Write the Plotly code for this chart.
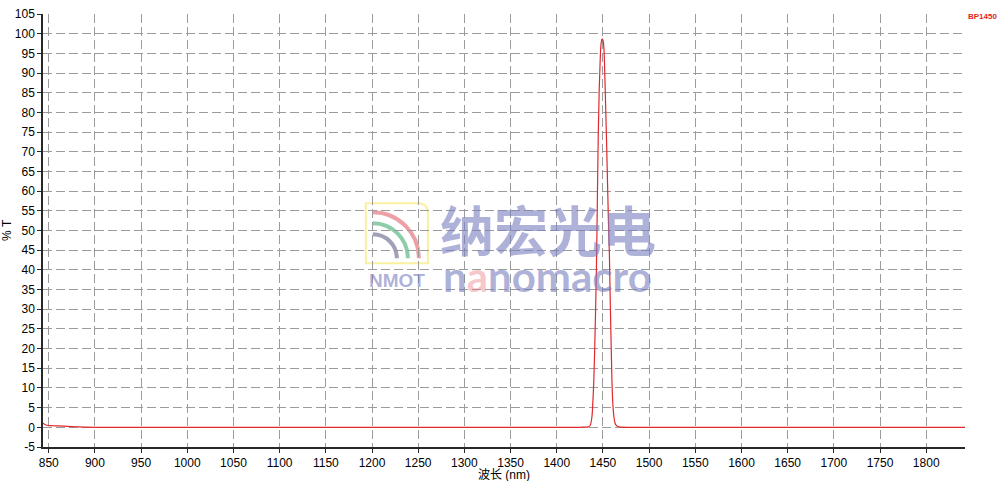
import plotly.graph_objects as go

# ---- data ----
wavelength = [843.8, 845, 847, 850, 855, 860, 870, 880, 890, 900, 1000, 1100, 1200, 1300, 1400,
              1425, 1430, 1434, 1436, 1438, 1439, 1440, 1441, 1442, 1443, 1444, 1445, 1446,
              1447, 1448, 1449, 1450, 1451, 1452, 1453, 1454, 1455, 1456, 1457, 1458, 1459,
              1460, 1461, 1462, 1463, 1464, 1466, 1470, 1480, 1500, 1600, 1700, 1800, 1842]
transmission = [1.0, 0.85, 0.6, 0.45, 0.4, 0.35, 0.25, 0.15, 0.05, 0.0, 0.0, 0.0, 0.0, 0.0, 0.0,
                0.0, 0.05, 0.1, 0.4, 2.5, 6, 11, 19, 29, 41, 58, 75, 86,
                93, 97.5, 98.6, 98.4, 96.5, 90, 81, 72, 62, 52, 44, 31, 20,
                10, 5, 2.5, 1.2, 0.6, 0.2, 0.05, 0.0, 0.0, 0.0, 0.0, 0.0, 0.0]

x_ticks = list(range(850, 1801, 50))
y_ticks = list(range(-5, 106, 5))
series_name = "BP1450"
x_title = "波长 (nm)"
y_title = "% T"

X0, X1 = 843.8, 1842
Y0, Y1 = -5, 105

fig = go.Figure()
fig.add_trace(go.Scatter(x=wavelength, y=transmission, mode="lines", name=series_name,
                         line=dict(color="rgb(225,40,45)", width=1.2), line_shape="spline"))

# plot area in pixels
L, R, T, B = 43.3, 965.0, 13.6, 447.0
W_PX, H_PX = 1000, 481


def px2p(px, py):
    return ((px - L) / (R - L), (B - py) / (B - T))


def pathstr(points, close=False):
    s = ""
    for cmd, pts in points:
        s += cmd + " " + " ".join("%.5f,%.5f" % px2p(*p) for p in pts) + " "
    if close:
        s += "Z"
    return s


shapes = []
# logo: yellow rounded square
logo = [("M", [(366, 263)]), ("L", [(366, 203)]), ("L", [(418, 203)]),
        ("Q", [(428, 203), (428, 213)]), ("L", [(428, 263)]), ("L", [(366, 263)])]
shapes.append(dict(type="path", xref="paper", yref="paper", path=pathstr(logo, True),
                   line=dict(color="rgba(248,238,150,0.9)", width=2), layer="below"))
k = 0.5523
for r, col, w in [(46, "rgba(235,150,155,0.9)", 4), (35, "rgba(130,200,160,0.9)", 4),
                  (24, "rgba(150,150,175,0.9)", 4)]:
    cx, cy = 373, 258
    arc = [("M", [(cx, cy - r)]),
           ("C", [(cx + k * r, cy - r), (cx + r, cy - k * r), (cx + r, cy)])]
    shapes.append(dict(type="path", xref="paper", yref="paper", path=pathstr(arc),
                       line=dict(color=col, width=w), layer="below"))

wm = "rgba(120,125,190,0.6)"


def ann(text, px, py, size, family, color, **kw):
    x, y = px2p(px, py)
    d = dict(text=text, x=x, y=y, xref="paper", yref="paper", showarrow=False,
             xanchor="center", yanchor="middle", font=dict(family=family, size=size, color=color))
    d.update(kw)
    return d


annotations = [
    ann("<b>纳宏光电</b>", 548, 228, 54, "Noto Sans CJK SC", wm),
    ann("<b>n<span style='color:rgba(235,120,130,0.7)'>a</span>nomacro</b>", 548, 276, 42,
        "Lato", wm),
    ann("<b>NMOT</b>", 397, 280, 19, "Liberation Sans", wm),
    ann("<b>" + series_name + "</b>", 982, 16, 8, "Liberation Sans", "rgb(230,30,30)"),
    ann(x_title, 504, 475, 12, "Liberation Sans, Noto Sans CJK SC", "black"),
    ann(y_title, 8, 230, 12, "Liberation Sans", "black", textangle=-90),
]

axis_font = dict(family="Liberation Sans, Arial, sans-serif", size=12, color="black")
fig.update_layout(
    width=W_PX, height=H_PX,
    margin=dict(l=L, r=W_PX - R, t=T, b=H_PX - B, autoexpand=False),
    paper_bgcolor="white", plot_bgcolor="white",
    showlegend=False,
    shapes=shapes, annotations=annotations,
    font=dict(family="Liberation Sans, Noto Sans CJK SC, sans-serif", size=12, color="black"),
)
common = dict(showgrid=True, gridcolor="rgb(155,155,155)", griddash="9px,4px", gridwidth=1,
              showline=True, linecolor="rgb(40,40,40)", linewidth=1.5,
              ticks="outside", ticklen=4, tickcolor="rgb(40,40,40)", tickfont=axis_font,
              zeroline=False, automargin=False)
fig.update_xaxes(range=[X0, X1], tickvals=x_ticks, ticktext=[str(v) for v in x_ticks], **common)
fig.update_yaxes(range=[Y0, Y1], tickvals=y_ticks, ticktext=[str(v) for v in y_ticks], **common)

fig.write_html("out.html", config={"displayModeBar": False},
               post_script="document.body.style.margin='0px';document.body.style.overflow='hidden';")
